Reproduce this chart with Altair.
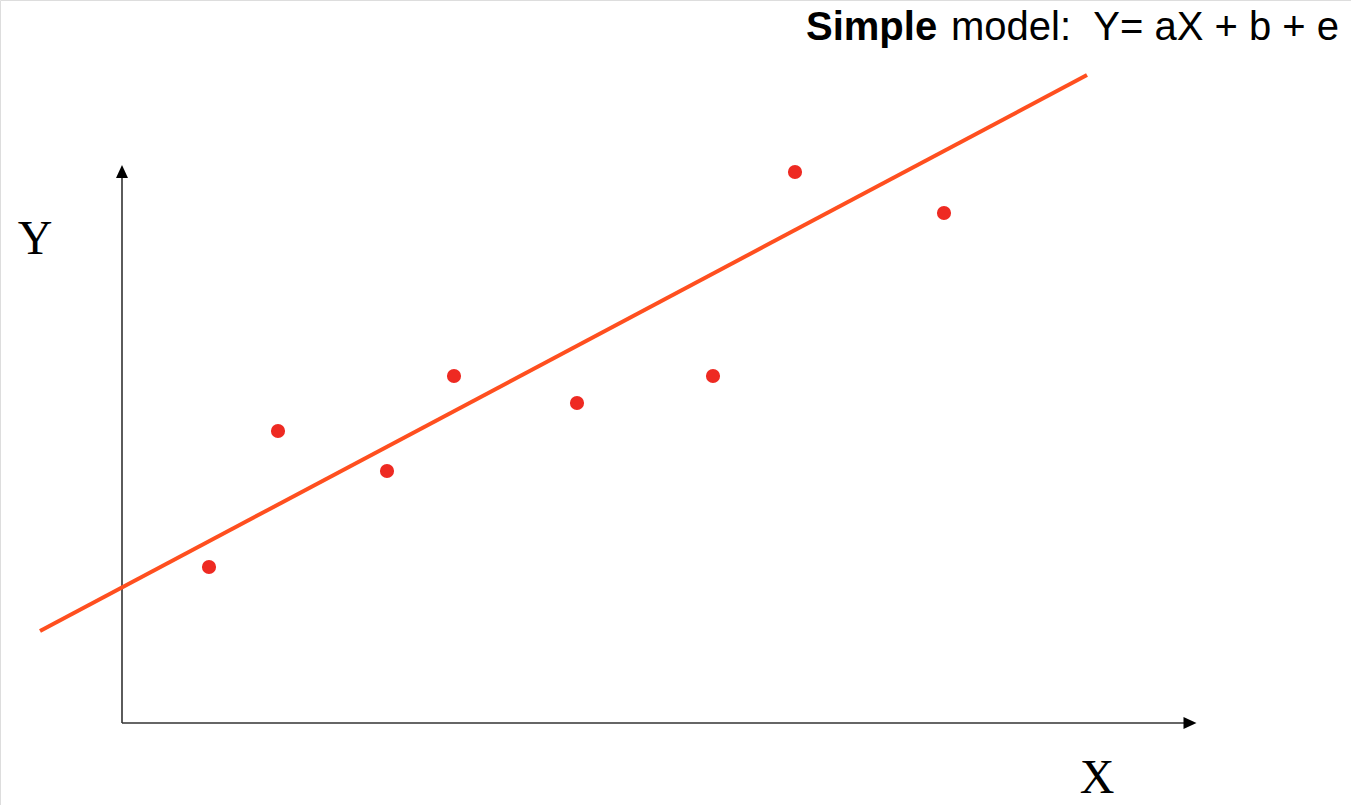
import altair as alt
import pandas as pd

# Data (data units: origin at axis intersection)
pts_x = [0.87, 1.56, 2.65, 3.32, 4.55, 5.91, 6.73, 8.22]
pts_y = [1.56, 2.92, 2.52, 3.47, 3.20, 3.47, 5.51, 5.10]

fit_x = [-0.82, 9.65]
fit_y = [0.92, 6.48]

axis_x0 = [0.0, 0.0]
axis_y0 = [0.0, 0.0]
axis_x1 = [0.0, 10.62]
axis_y1 = [5.46, 0.0]

arrow_x = [0.0, 10.68]
arrow_y = [5.515, 0.0]
arrow_shape = ["M0,-1L-0.92,1L0.92,1Z", "M1,0L-1,-0.92L-1,0.92Z"]

label_text = ["Y", "X"]
label_x = [-0.87, 9.75]
label_y = [4.69, -0.70]

title_bold = "Simple"
title_rest = "model:\u00a0\u00a0Y= aX + b + e"
title_x = [6.84, 8.29]
title_y = [6.83, 6.83]

XD = [-1.22, 12.29]
YD = [-0.82, 7.23]

xs = alt.Scale(domain=XD, nice=False, zero=False)
ys = alt.Scale(domain=YD, nice=False, zero=False)

pts = pd.DataFrame({"x": pts_x, "y": pts_y})
fit = pd.DataFrame({"x": fit_x, "y": fit_y})
axes_df = pd.DataFrame({"x": axis_x0, "y": axis_y0, "x2": axis_x1, "y2": axis_y1})
arrows = pd.DataFrame({"x": arrow_x, "y": arrow_y, "shape": arrow_shape})
labels = pd.DataFrame({"t": label_text, "x": label_x, "y": label_y})
t1 = pd.DataFrame({"t": [title_bold], "x": [title_x[0]], "y": [title_y[0]]})
t2 = pd.DataFrame({"t": [title_rest], "x": [title_x[1]], "y": [title_y[1]]})

X = lambda: alt.X("x:Q", scale=xs, axis=None)
Y = lambda: alt.Y("y:Q", scale=ys, axis=None)

axis_rules = alt.Chart(axes_df).mark_rule(color="#333333", strokeWidth=1.6).encode(
    x=X(), y=Y(), x2="x2:Q", y2="y2:Q")

arrow_heads = alt.Chart(arrows).mark_point(filled=True, color="#000000", opacity=1, size=169,
                                           strokeWidth=0).encode(
    x=X(), y=Y(), shape=alt.Shape("shape:N", scale=None, legend=None))

line = alt.Chart(fit).mark_line(color="#FF4F1F", strokeWidth=4).encode(x=X(), y=Y())

dots = alt.Chart(pts).mark_circle(color="#EE2A22", opacity=1, size=200).encode(x=X(), y=Y())

lab = alt.Chart(labels).mark_text(font="Liberation Serif", fontSize=48, color="#000000",
                                  align="center", baseline="alphabetic").encode(
    x=X(), y=Y(), text="t:N")

tt1 = alt.Chart(t1).mark_text(font="Liberation Sans", fontSize=40, fontWeight="bold",
                              color="#000000", align="left", baseline="alphabetic").encode(
    x=X(), y=Y(), text="t:N")
tt2 = alt.Chart(t2).mark_text(font="Liberation Sans", fontSize=40, color="#000000",
                              align="left", baseline="alphabetic").encode(
    x=X(), y=Y(), text="t:N")

chart = alt.layer(axis_rules, arrow_heads, line, dots, lab, tt1, tt2).properties(
    width=1351, height=805, padding=0, autosize=alt.AutoSizeParams(type="none")
).configure_view(stroke=None).configure(background="white")

chart.save("out.html", embed_options={"renderer": "svg", "actions": False})
